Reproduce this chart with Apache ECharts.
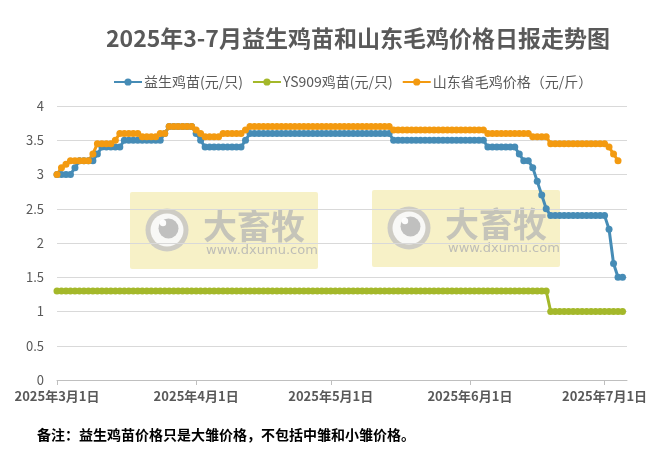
<!DOCTYPE html>
<html>
<head>
<meta charset="utf-8">
<script src="https://cdn.jsdelivr.net/npm/echarts@6/dist/echarts.min.js"></script>
<style>
html, body { margin: 0; padding: 0; background: #fff; }
#chart { width: 663px; height: 460px; }
</style>
</head>
<body>
<div id="chart"></div>
<script>
// 横轴日期：2025-03-01 起 128 天（到 7 月 6 日）
var startDate = [2025, 3, 1];
var dayCount = 128;

// 益生鸡苗(元/只)
var yishengData = [
    3.0, 3.0, 3.0, 3.0, 3.1, 3.2, 3.2, 3.2, 3.2, 3.3,
    3.4, 3.4, 3.4, 3.4, 3.4, 3.5, 3.5, 3.5, 3.5, 3.5,
    3.5, 3.5, 3.5, 3.5, 3.6, 3.7, 3.7, 3.7, 3.7, 3.7,
    3.7, 3.6, 3.5, 3.4, 3.4, 3.4, 3.4, 3.4, 3.4, 3.4,
    3.4, 3.4, 3.5, 3.6, 3.6, 3.6, 3.6, 3.6, 3.6, 3.6,
    3.6, 3.6, 3.6, 3.6, 3.6, 3.6, 3.6, 3.6, 3.6, 3.6,
    3.6, 3.6, 3.6, 3.6, 3.6, 3.6, 3.6, 3.6, 3.6, 3.6,
    3.6, 3.6, 3.6, 3.6, 3.6, 3.5, 3.5, 3.5, 3.5, 3.5,
    3.5, 3.5, 3.5, 3.5, 3.5, 3.5, 3.5, 3.5, 3.5, 3.5,
    3.5, 3.5, 3.5, 3.5, 3.5, 3.5, 3.4, 3.4, 3.4, 3.4,
    3.4, 3.4, 3.4, 3.3, 3.2, 3.2, 3.1, 2.9, 2.7, 2.5,
    2.4, 2.4, 2.4, 2.4, 2.4, 2.4, 2.4, 2.4, 2.4, 2.4,
    2.4, 2.4, 2.4, 2.2, 1.7, 1.5, 1.5
];

// YS909鸡苗(元/只)
var ys909Data = [
    1.3, 1.3, 1.3, 1.3, 1.3, 1.3, 1.3, 1.3, 1.3, 1.3,
    1.3, 1.3, 1.3, 1.3, 1.3, 1.3, 1.3, 1.3, 1.3, 1.3,
    1.3, 1.3, 1.3, 1.3, 1.3, 1.3, 1.3, 1.3, 1.3, 1.3,
    1.3, 1.3, 1.3, 1.3, 1.3, 1.3, 1.3, 1.3, 1.3, 1.3,
    1.3, 1.3, 1.3, 1.3, 1.3, 1.3, 1.3, 1.3, 1.3, 1.3,
    1.3, 1.3, 1.3, 1.3, 1.3, 1.3, 1.3, 1.3, 1.3, 1.3,
    1.3, 1.3, 1.3, 1.3, 1.3, 1.3, 1.3, 1.3, 1.3, 1.3,
    1.3, 1.3, 1.3, 1.3, 1.3, 1.3, 1.3, 1.3, 1.3, 1.3,
    1.3, 1.3, 1.3, 1.3, 1.3, 1.3, 1.3, 1.3, 1.3, 1.3,
    1.3, 1.3, 1.3, 1.3, 1.3, 1.3, 1.3, 1.3, 1.3, 1.3,
    1.3, 1.3, 1.3, 1.3, 1.3, 1.3, 1.3, 1.3, 1.3, 1.3,
    1.0, 1.0, 1.0, 1.0, 1.0, 1.0, 1.0, 1.0, 1.0, 1.0,
    1.0, 1.0, 1.0, 1.0, 1.0, 1.0, 1.0
];

// 山东省毛鸡价格（元/斤）
var shandongData = [
    3.0, 3.1, 3.15, 3.2, 3.2, 3.2, 3.2, 3.2, 3.3, 3.45,
    3.45, 3.45, 3.45, 3.5, 3.6, 3.6, 3.6, 3.6, 3.6, 3.55,
    3.55, 3.55, 3.55, 3.6, 3.6, 3.7, 3.7, 3.7, 3.7, 3.7,
    3.7, 3.65, 3.6, 3.55, 3.55, 3.55, 3.55, 3.6, 3.6, 3.6,
    3.6, 3.6, 3.65, 3.7, 3.7, 3.7, 3.7, 3.7, 3.7, 3.7,
    3.7, 3.7, 3.7, 3.7, 3.7, 3.7, 3.7, 3.7, 3.7, 3.7,
    3.7, 3.7, 3.7, 3.7, 3.7, 3.7, 3.7, 3.7, 3.7, 3.7,
    3.7, 3.7, 3.7, 3.7, 3.7, 3.65, 3.65, 3.65, 3.65, 3.65,
    3.65, 3.65, 3.65, 3.65, 3.65, 3.65, 3.65, 3.65, 3.65, 3.65,
    3.65, 3.65, 3.65, 3.65, 3.65, 3.65, 3.6, 3.6, 3.6, 3.6,
    3.6, 3.6, 3.6, 3.6, 3.6, 3.6, 3.55, 3.55, 3.55, 3.55,
    3.45, 3.45, 3.45, 3.45, 3.45, 3.45, 3.45, 3.45, 3.45, 3.45,
    3.45, 3.45, 3.45, 3.4, 3.3, 3.2
];

var seriesNames = ['益生鸡苗(元/只)', 'YS909鸡苗(元/只)', '山东省毛鸡价格（元/斤）'];
var seriesColors = ['#468cb6', '#a4b82a', '#f39a10'];
var yTicks = { min: 0, max: 4, interval: 0.5 };

var titleText = '2025年3-7月益生鸡苗和山东毛鸡价格日报走势图';
var noteText = '备注：益生鸡苗价格只是大雏价格，不包括中雏和小雏价格。';

var cnFont = '"Noto Sans CJK SC", "Microsoft YaHei", sans-serif';
var textGray = '#595959';

// 日期类目
var dates = [];
var d0 = new Date(startDate[0], startDate[1] - 1, startDate[2]);
for (var i = 0; i < dayCount; i++) {
    var d = new Date(d0.getTime());
    d.setDate(d0.getDate() + i);
    dates.push(d.getFullYear() + '/' + (d.getMonth() + 1) + '/' + d.getDate());
}

function isMonthStart(index, value) {
    return value.split('/')[2] === '1';
}

// 水印
function watermark(x, y) {
    return {
        type: 'group',
        x: x,
        y: y,
        z: 100,
        children: [
            { type: 'rect', shape: { x: 0, y: 0, width: 188, height: 77, r: 2 },
              style: { fill: 'rgba(238,224,130,0.45)' } },
            { type: 'circle', shape: { cx: 37, cy: 38, r: 21.5 },
              style: { fill: 'rgba(195,195,195,0.8)' } },
            { type: 'circle', shape: { cx: 37, cy: 38, r: 16.5 },
              style: { fill: 'rgba(255,255,255,0.85)' } },
            { type: 'circle', shape: { cx: 38.5, cy: 36.5, r: 10 },
              style: { fill: 'rgba(185,185,185,0.9)' } },
            { type: 'circle', shape: { cx: 33, cy: 31, r: 3.2 },
              style: { fill: 'rgba(255,255,255,0.95)' } },
            { type: 'text', x: 73, y: 34,
              style: { text: '大畜牧', font: 'bold 34px ' + cnFont,
                       fill: 'rgba(180,180,180,0.75)', verticalAlign: 'middle' } },
            { type: 'text', x: 76, y: 59,
              style: { text: 'www.dxumu.com', font: '13px "DejaVu Sans", sans-serif',
                       fill: 'rgba(180,180,180,0.85)', verticalAlign: 'middle' } }
        ]
    };
}

var chart = echarts.init(document.getElementById('chart'));

var series = [yishengData, ys909Data, shandongData].map(function (data, k) {
    return {
        name: seriesNames[k],
        type: 'line',
        data: data,
        symbol: 'circle',
        symbolSize: 7,
        showAllSymbol: true,
        lineStyle: { width: 3, color: seriesColors[k] },
        itemStyle: { color: seriesColors[k] },
        emphasis: { disabled: true },
        animation: false
    };
});

var option = {
    backgroundColor: '#fff',
    animation: false,
    title: {
        text: titleText,
        left: 101,
        top: 22,
        textStyle: { fontFamily: cnFont, fontSize: 23, fontWeight: 'bold', color: textGray }
    },
    legend: {
        data: seriesNames,
        left: 108,
        top: 70,
        itemWidth: 28,
        itemHeight: 9,
        itemGap: 9,
        textStyle: { fontFamily: cnFont, fontSize: 14, color: textGray, padding: [0, 0, 0, -3] }
    },
    grid: {
        left: 57,
        right: 36,
        top: 106,
        bottom: 80,
        outerBoundsMode: 'none'
    },
    xAxis: {
        type: 'category',
        boundaryGap: false,
        data: dates,
        axisLine: { lineStyle: { color: '#bfbfbf', width: 1 } },
        axisTick: { interval: isMonthStart, length: 5, lineStyle: { color: '#bfbfbf' } },
        axisLabel: {
            interval: isMonthStart,
            margin: 10,
            fontFamily: cnFont,
            fontSize: 13,
            fontWeight: 'bold',
            color: textGray,
            formatter: function (v) {
                var p = v.split('/');
                return p[0] + '年' + p[1] + '月' + p[2] + '日';
            }
        },
        splitLine: { show: false }
    },
    yAxis: {
        type: 'value',
        min: yTicks.min,
        max: yTicks.max,
        interval: yTicks.interval,
        axisLine: { show: false },
        axisTick: { show: false },
        axisLabel: { fontFamily: cnFont, fontSize: 13, color: textGray, margin: 13 },
        splitLine: { lineStyle: { color: '#d9d9d9', width: 1 } }
    },
    series: series,
    graphic: [
        watermark(130, 192),
        watermark(372, 190),
        {
            type: 'text',
            left: 37,
            top: 428,
            style: { text: noteText, font: 'bold 14px ' + cnFont, fill: '#000' }
        }
    ]
};

chart.setOption(option);
</script>
</body>
</html>
